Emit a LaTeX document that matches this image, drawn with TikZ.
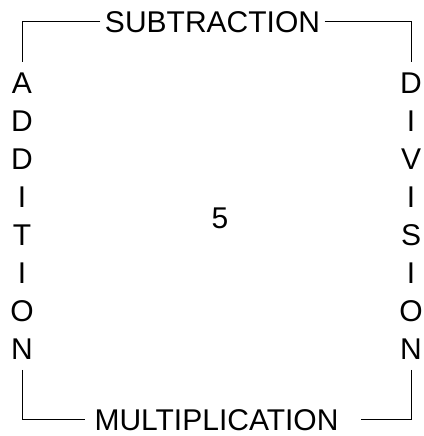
\documentclass[tikz,border=0pt]{standalone}
\usepackage{fontspec}
\setmainfont{Liberation Sans}
\usepackage{tikz}
\usetikzlibrary{positioning}

\begin{document}
\begin{tikzpicture}[x=1pt,y=1pt,line width=1pt,
    font=\fontsize{30}{38}\selectfont,
    word node/.style={inner ysep=0pt},
    column node/.style={align=center,inner xsep=1pt,inner ysep=10pt}]

	\useasboundingbox (0,0) rectangle (423,436);

	\node[word node,inner xsep=4pt] (sub) at (212.5,414) {SUBTRACTION};
	\node[word node,inner xsep=9pt] (mul) at (216.5,16) {MULTIPLICATION};
	\node[word node] (five) at (220,218) {5};

	\node[column node] (add) at (22,220) {A\\D\\D\\I\\T\\I\\O\\N};
	\node[column node] (div) at (411,220) {D\\I\\V\\I\\S\\I\\O\\N};

	\draw (sub.west) -| (add.north);
	\draw (sub.east) -| (div.north);
	\draw (add.south) |- (mul.west);
	\draw[shorten >=13pt] (div.south) |- (mul.east);

\end{tikzpicture}
\end{document}
